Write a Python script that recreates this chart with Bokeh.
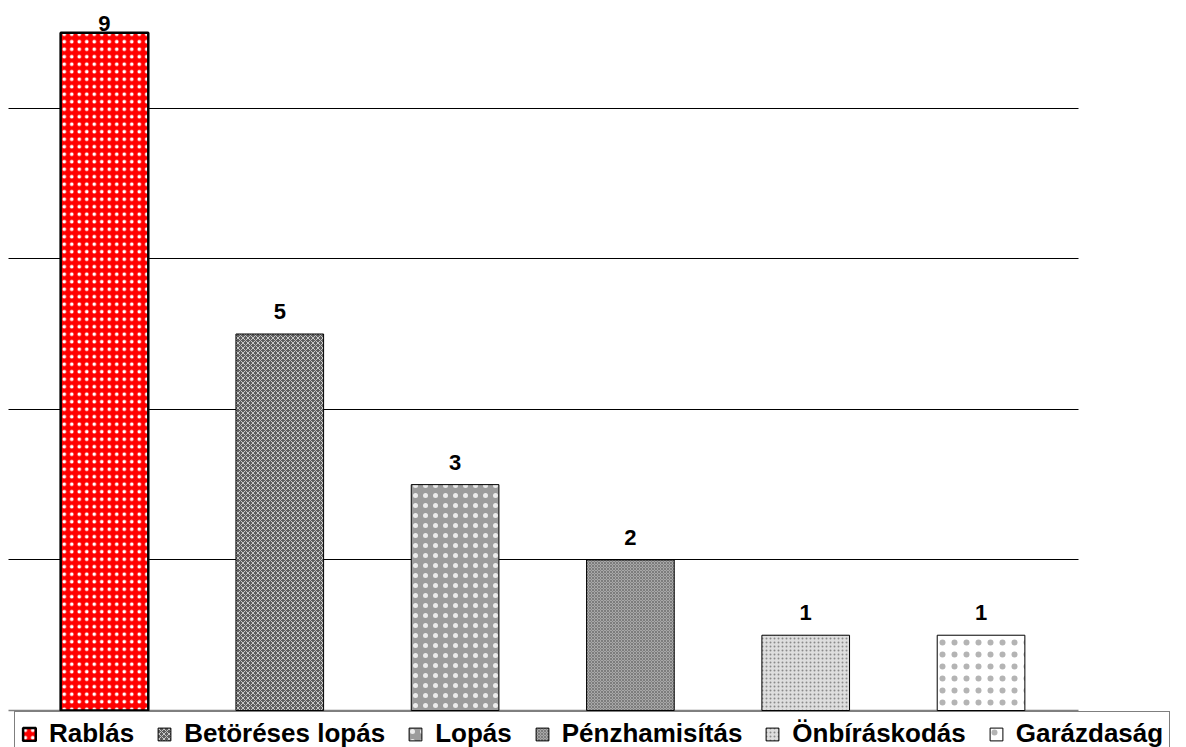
import numpy as np
from bokeh.plotting import figure
from bokeh.models import (ColumnDataSource, Range1d, Legend, LegendItem, LabelSet,
                          FixedTicker, Grid)
from bokeh.core.properties import value
from bokeh.embed import file_html
from bokeh.resources import INLINE

categories = ["Rablás", "Betöréses lopás", "Lopás", "Pénzhamisítás", "Önbíráskodás", "Garázdaság"]
values = [9, 5, 3, 2, 1, 1]
grid_ticks = [2, 4, 6, 8]

# styles
fill_colors = ["#ff0000", "#5e5e5e", "#9c9c9c", "#a8a8a8", "#dedede", "#ffffff"]
hatch_patterns = ["dot", "diagonal_cross", "dot", "diagonal_cross", "dot", "dot"]
hatch_colors = ["#ffffff", "#c8c8c8", "#ececec", "#7c7c7c", "#8a8a8a", "#b4b4b4"]
hatch_scales = [7.5, 5, 10, 3, 4, 12]
hatch_weights = [0.5, 1.0, 0.5, 1.0, 1.0, 0.5]
line_widths = [2.5, 1, 1, 1, 1, 1]

FONT = "Liberation Sans"
Y_START, Y_END = -0.491, 9.429
X_START, X_END = -0.593, 6.172
GRID_X = (-0.547, 5.556)

xpos = np.arange(len(categories))
label_y = np.minimum(np.array(values) + 0.2, Y_END - 0.41)

source = ColumnDataSource(dict(
    x=xpos, val=values, label=[str(v) for v in values], label_y=label_y,
    fill=fill_colors, hatch=hatch_patterns, hcolor=hatch_colors,
    hscale=hatch_scales, hweight=hatch_weights, lw=line_widths,
))

p = figure(width=1186, height=747,
           x_range=Range1d(X_START, X_END),
           y_range=Range1d(Y_START, Y_END),
           output_backend="svg", toolbar_location=None,
           x_axis_location=None, y_axis_location=None,
           min_border=0)
p.outline_line_color = None
p.background_fill_color = "white"
p.border_fill_color = "white"
p.xgrid.visible = False
p.ygrid.visible = False

p.add_layout(Grid(dimension=1, ticker=FixedTicker(ticks=grid_ticks),
                  cross_bounds=GRID_X, grid_line_color="black", grid_line_width=1))

r = p.vbar(x="x", top="val", bottom=0, width=0.5, source=source,
           fill_color="fill", line_color="black", line_width="lw",
           hatch_pattern="hatch", hatch_color="hcolor",
           hatch_scale="hscale", hatch_weight="hweight")

p.add_layout(Grid(dimension=1, ticker=FixedTicker(ticks=[0]),
                  cross_bounds=GRID_X, grid_line_color="#808080", grid_line_width=1.5))

labels = LabelSet(x="x", y="label_y", text="label", source=source,
                  text_align="center", text_baseline="alphabetic",
                  text_font=value(FONT), text_font_style="bold", text_font_size="22px",
                  text_color="black")
p.add_layout(labels)

items = [LegendItem(label=c, renderers=[r], index=i) for i, c in enumerate(categories)]
legend = Legend(items=items, orientation="horizontal", location=(14, -9),
                glyph_width=16, glyph_height=16, label_standoff=12, spacing=22,
                padding=6, margin=0,
                label_text_font=FONT, label_text_font_style="bold",
                label_text_font_size="26px", label_text_color="black",
                border_line_color="black", border_line_width=1,
                background_fill_color="white", background_fill_alpha=1.0)
p.add_layout(legend)

open("out.html", "w").write(file_html(p, INLINE))
